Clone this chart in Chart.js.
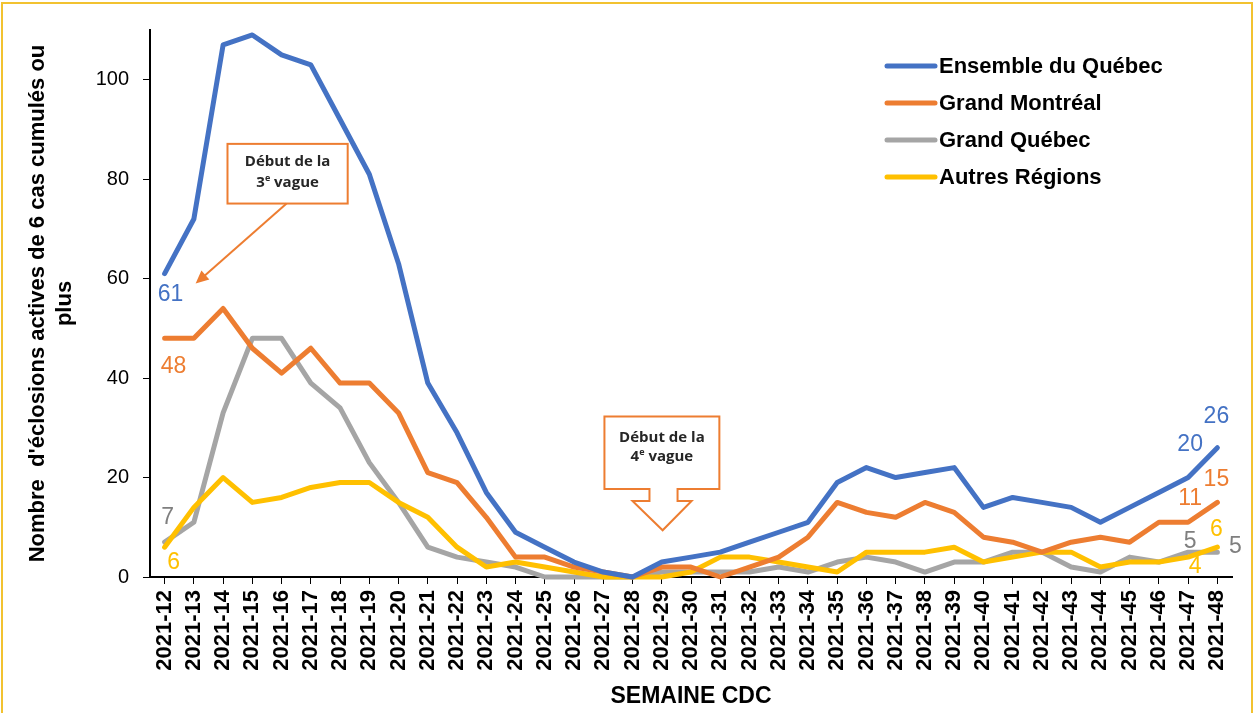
<!DOCTYPE html>
<html><head><meta charset="utf-8">
<script src="https://cdn.jsdelivr.net/npm/chart.js@4.4.1/dist/chart.umd.min.js"></script>
<style>html,body{margin:0;padding:0;background:#fff;}canvas{display:block}</style>
</head><body>
<canvas id="c" width="1257" height="713"></canvas>
<script>
const categories = ['2021-12','2021-13','2021-14','2021-15','2021-16','2021-17','2021-18','2021-19','2021-20','2021-21','2021-22','2021-23','2021-24','2021-25','2021-26','2021-27','2021-28','2021-29','2021-30','2021-31','2021-32','2021-33','2021-34','2021-35','2021-36','2021-37','2021-38','2021-39','2021-40','2021-41','2021-42','2021-43','2021-44','2021-45','2021-46','2021-47','2021-48'];
const ensembleQuebec = [61,72,107,109,105,103,92,81,63,39,29,17,9,6,3,1,0,3,4,5,7,9,11,19,22,20,21,22,14,16,15,14,11,14,17,20,26];
const grandMontreal  = [48,48,54,46,41,46,39,39,33,21,19,12,4,4,2,1,0,2,2,0,2,4,8,15,13,12,15,13,8,7,5,7,8,7,11,11,15];
const grandQuebec    = [7,11,33,48,48,39,34,23,15,6,4,3,2,0,0,0,0,1,1,1,1,2,1,3,4,3,1,3,3,5,5,2,1,4,3,5,5];
const autresRegions  = [6,14,20,15,16,18,19,19,15,12,6,2,3,2,1,0,0,0,1,4,4,3,2,1,5,5,5,6,3,4,5,5,2,3,3,4,6];
const seriesNames = ['Ensemble du Québec','Grand Montréal','Grand Québec','Autres Régions'];
const yTicks = [0,20,40,60,80,100];

const colors = ['#4472C4','#ED7D31','#A5A5A5','#FFC000'];
const labelColors = ['#4472C4','#ED7D31','#7F7F7F','#FFC000'];
const FONT = "'Liberation Sans', Arial, sans-serif";

// [dataset, point index, dx, dy] : which points get a value label and where
const labelSpecs = [
  [0,0,6,21],[1,0,9,28],[2,0,3,-25],[3,0,9,15],
  [0,35,2,-33],[1,35,2,-24],[2,35,2,-10],[3,35,7,10],
  [0,36,-1,-31],[1,36,-1,-23],[2,36,18,-5],[3,36,-1,-18]
];

function drawSupLine(c, base, sup, rest, cx, cy){
  const f='bold 15px "Open Sans", sans-serif', fs='bold 9px "Open Sans", sans-serif';
  c.font=f; const w1=c.measureText(base).width, w3=c.measureText(rest).width;
  c.font=fs; const w2=c.measureText(sup).width;
  let x=cx-(w1+w2+w3)/2;
  c.textAlign='left'; c.textBaseline='middle';
  c.font=f; c.fillText(base,x,cy); x+=w1;
  c.font=fs; c.fillText(sup,x,cy-4); x+=w2;
  c.font=f; c.fillText(rest,x,cy);
}

const overlay = {
  id:'overlay',
  beforeDraw(chart){
    const c=chart.ctx; c.save();
    c.fillStyle='#fff'; c.fillRect(0,0,chart.width,chart.height);
    c.strokeStyle='#F2C230'; c.lineWidth=2;
    c.beginPath(); c.moveTo(2,713); c.lineTo(2,3); c.lineTo(1252,3); c.lineTo(1252,713); c.stroke();
    c.restore();
  },
  afterDatasetsDraw(chart){
    const c=chart.ctx, xs=chart.scales.x, ys=chart.scales.y;
    const px=i=>xs.getPixelForValue(i), py=v=>ys.getPixelForValue(v);
    c.save();
    // value labels
    c.font='23px '+FONT; c.textAlign='center'; c.textBaseline='middle';
    labelSpecs.forEach(([d,i,dx,dy])=>{
      const v=chart.data.datasets[d].data[i];
      c.fillStyle=labelColors[d];
      c.fillText(String(v), px(i)+dx, py(v)+dy);
    });
    // legend
    const ly=[66,103,140,177];
    seriesNames.forEach((n,k)=>{
      c.strokeStyle=colors[k]; c.lineWidth=5; c.lineCap='round';
      c.beginPath(); c.moveTo(887,ly[k]); c.lineTo(935,ly[k]); c.stroke();
      c.fillStyle='#000'; c.font='bold 22px '+FONT; c.textAlign='left'; c.textBaseline='middle';
      c.fillText(n,939,ly[k]+1);
    });
    c.lineCap='butt';
    // annotation 1 : box + arrow (anchored in data space)
    const b1={l:px(2.15),r:px(6.26),t:py(87.1),b:py(75.1)};
    c.fillStyle='#fff'; c.fillRect(b1.l,b1.t,b1.r-b1.l,b1.b-b1.t);
    c.strokeStyle='#ED7D31'; c.lineWidth=2; c.strokeRect(b1.l,b1.t,b1.r-b1.l,b1.b-b1.t);
    c.fillStyle='#262626';
    const cx1=(b1.l+b1.r)/2;
    c.font='bold 15px "Open Sans", sans-serif'; c.textAlign='center'; c.textBaseline='middle';
    c.fillText('Début de la',cx1,b1.t+18);
    drawSupLine(c,'3','e',' vague',cx1,b1.t+39);
    const a0={x:px(4.17),y:py(75.1)}, a1={x:px(1.06),y:py(59)};
    const ang=Math.atan2(a1.y-a0.y,a1.x-a0.x), hl=13, hw=6;
    c.strokeStyle='#ED7D31'; c.lineWidth=2;
    c.beginPath(); c.moveTo(a0.x,a0.y); c.lineTo(a1.x-Math.cos(ang)*hl*0.8,a1.y-Math.sin(ang)*hl*0.8); c.stroke();
    c.fillStyle='#ED7D31'; c.beginPath();
    c.moveTo(a1.x,a1.y);
    c.lineTo(a1.x-Math.cos(ang)*hl-Math.sin(ang)*hw, a1.y-Math.sin(ang)*hl+Math.cos(ang)*hw);
    c.lineTo(a1.x-Math.cos(ang)*hl+Math.sin(ang)*hw, a1.y-Math.sin(ang)*hl-Math.cos(ang)*hw);
    c.closePath(); c.fill();
    // annotation 2 : down-arrow callout
    const L=px(15.04),R=px(18.97),T=py(32.3),B=py(17.7),SL=px(16.58),SR=px(17.54),WY=py(15.3),WL=px(16.0),WR=px(18.02),TX=px(17.03),TY=py(9.4);
    c.beginPath();
    c.moveTo(L,T); c.lineTo(R,T); c.lineTo(R,B); c.lineTo(SR,B); c.lineTo(SR,WY); c.lineTo(WR,WY);
    c.lineTo(TX,TY); c.lineTo(WL,WY); c.lineTo(SL,WY); c.lineTo(SL,B); c.lineTo(L,B); c.closePath();
    c.fillStyle='#fff'; c.fill(); c.strokeStyle='#ED7D31'; c.lineWidth=2; c.stroke();
    c.fillStyle='#262626';
    const cx2=(L+R)/2;
    c.font='bold 15px "Open Sans", sans-serif'; c.textAlign='center'; c.textBaseline='middle';
    c.fillText('Début de la',cx2,T+21);
    drawSupLine(c,'4','e',' vague',cx2,T+40);
    c.restore();
  }
};

const mkDs=(label,data,k,order)=>({label,data,borderColor:colors[k],backgroundColor:colors[k],borderWidth:5,pointRadius:0,tension:0,borderJoinStyle:'round',borderCapStyle:'round',clip:false,order});

new Chart(document.getElementById('c'),{
  type:'line',
  data:{labels:categories,datasets:[
    mkDs(seriesNames[0],ensembleQuebec,0,1),
    mkDs(seriesNames[1],grandMontreal,1,2),
    mkDs(seriesNames[2],grandQuebec,2,4),
    mkDs(seriesNames[3],autresRegions,3,3)
  ]},
  options:{
    responsive:false,animation:false,
    layout:{padding:{top:30,right:25,left:0,bottom:0}},
    plugins:{legend:{display:false},tooltip:{enabled:false}},
    scales:{
      x:{offset:true,
        grid:{drawOnChartArea:false,color:'#000',tickLength:7,offset:false},
        border:{color:'#000',width:2},
        ticks:{color:'#000',font:{family:FONT,size:22,weight:'bold'},minRotation:90,maxRotation:90,padding:6,autoSkip:false},
        title:{display:true,text:'SEMAINE CDC',color:'#000',font:{family:FONT,size:23,weight:'bold'},padding:{top:0,bottom:3}},
        afterFit(s){s.height=136;}
      },
      y:{min:0,max:110,
        afterBuildTicks(s){s.ticks=yTicks.map(v=>({value:v}));},
        grid:{drawOnChartArea:false,color:'#000',tickLength:7},
        border:{color:'#000',width:2},
        ticks:{color:'#000',font:{family:FONT,size:20},padding:14},
        title:{display:true,text:["Nombre  d'éclosions actives de 6 cas cumulés ou","plus"],color:'#000',font:{family:FONT,size:22,weight:'bold',lineHeight:1.2},padding:{top:25,bottom:0}},
        afterFit(s){s.width=150;}
      }
    }
  },
  plugins:[overlay]
});
</script>
</body></html>
